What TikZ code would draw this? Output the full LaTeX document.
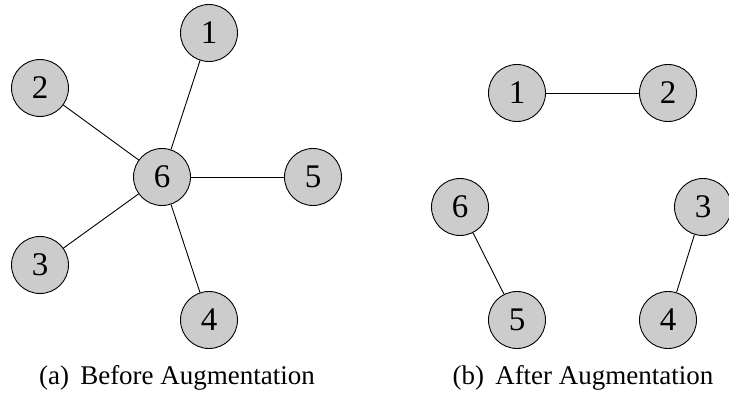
\documentclass[tikz,border=0pt]{standalone}
\usepackage{fontspec}
\setmainfont{Liberation Serif}
\begin{document}
\begin{tikzpicture}[x=1pt,y=-1pt,
  vertex/.style={circle,draw=black,line width=0.9pt,fill=black!20,minimum size=57pt,inner sep=0pt,font=\fontsize{33}{33}\selectfont},
  edge/.style={line width=0.9pt},
  caption/.style={font=\fontsize{27}{30}\selectfont}]
\useasboundingbox (0,0) rectangle (729,398);
\clip (0,0) rectangle (729,398);
% (a) star around vertex 6
\node[vertex] (a1) at (209,33) {1};
\node[vertex] (a2) at (40,88) {2};
\node[vertex] (a6) at (162,177) {6};
\node[vertex] (a5) at (313,177) {5};
\node[vertex] (a3) at (40,265) {3};
\node[vertex] (a4) at (209,320) {4};
\draw[edge] (a6) -- (a1);
\draw[edge] (a6) -- (a2);
\draw[edge] (a6) -- (a5);
\draw[edge] (a6) -- (a3);
\draw[edge] (a6) -- (a4);
\node[caption] (capa) at (177,378) {(a)\, Before Augmentation};
% (b) three separate pairs
\node[vertex] (b1) at (517,93) {1};
\node[vertex] (b2) at (668,93) {2};
\node[vertex] (b6) at (460,207) {6};
\node[vertex] (b3) at (703,207) {3};
\node[vertex] (b5) at (517,320) {5};
\node[vertex] (b4) at (668,320) {4};
\draw[edge] (b1) -- (b2);
\draw[edge] (b6) -- (b5);
\draw[edge] (b3) -- (b4);
\node[caption] (capb) at (583,378) {(b)\, After Augmentation};
\end{tikzpicture}
\end{document}
